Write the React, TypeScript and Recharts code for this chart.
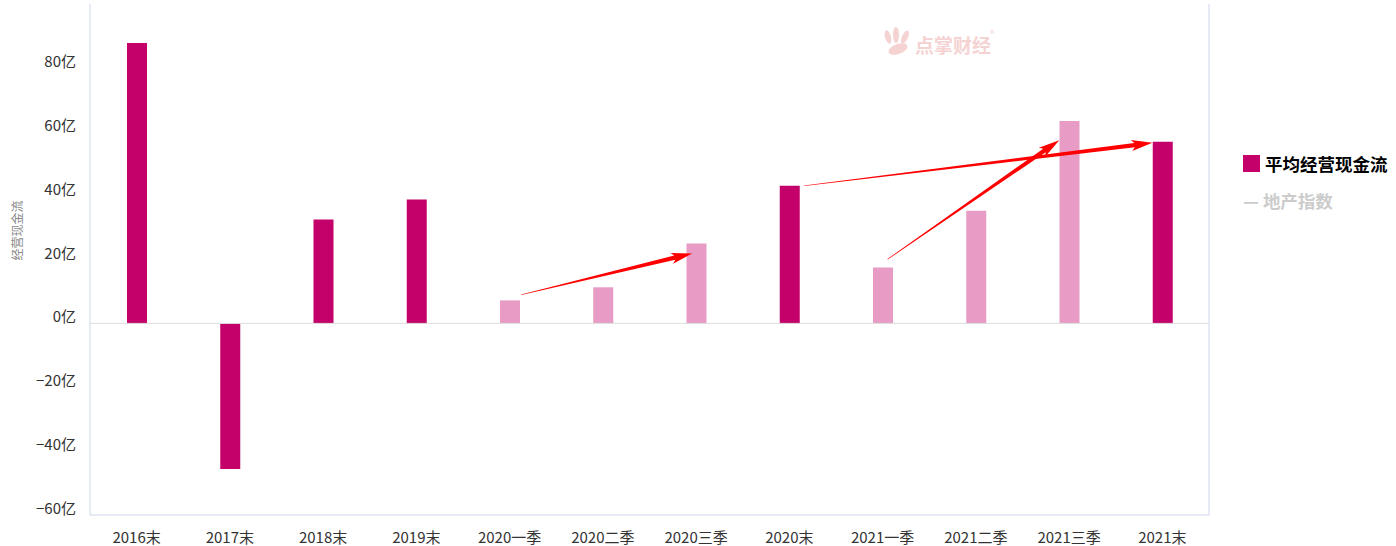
import React from "react";
import {
  BarChart,
  Bar,
  Cell,
  XAxis,
  YAxis,
  ReferenceLine,
} from "recharts";

const categories = [
  "2016末", "2017末", "2018末", "2019末",
  "2020一季", "2020二季", "2020三季", "2020末",
  "2021一季", "2021二季", "2021三季", "2021末",
];
const cashFlow = [87.8, -45.6, 32.5, 38.8, 7.2, 11.3, 25.0, 43.1, 17.5, 35.3, 63.4, 56.9];
const yTicks = [-60, -40, -20, 0, 20, 40, 60, 80];
const seriesNames = ["平均经营现金流", "地产指数"];

// arrows drawn on the chart: [from category, from value, to category, to value, trim start, trim end]
const arrows: [string, number, string, number, number, number][] = [
  ["2020一季", 8.1, "2020三季", 22.2, 12, 4],
  ["2020末", 42.5, "2021末", 56.9, 15, 10],
  ["2021一季", 19, "2021三季", 59.5, 6, 12],
];

const DARK = "#c4006a";
const LIGHT = "#e89bc5";
const AXIS = "#ccd6eb";
const FONT = "'Noto Sans CJK SC', 'Noto Sans', sans-serif";

const data = categories.map((c, i) => ({ name: c, cash: cashFlow[i] }));

const makeArrow = (trimStart: number, trimEnd: number) => (props: any) => {
  const { x1, y1, x2, y2 } = props;
  if (x1 == null || x2 == null) return null;
  const dx = x2 - x1;
  const dy = y2 - y1;
  const len = Math.sqrt(dx * dx + dy * dy);
  const ux = dx / len;
  const uy = dy / len;
  const nx = -uy;
  const ny = ux;
  const sx = x1 + ux * trimStart;
  const sy = y1 + uy * trimStart;
  const ex = x2 - ux * trimEnd;
  const ey = y2 - uy * trimEnd;
  const headLen = 18;
  const bx = ex - ux * headLen;
  const by = ey - uy * headLen;
  const pts = [
    [sx + nx * 0.3, sy + ny * 0.3],
    [bx + nx * 2.2, by + ny * 2.2],
    [bx + nx * 5.5 - ux * 3, by + ny * 5.5 - uy * 3],
    [ex, ey],
    [bx - nx * 5.5 - ux * 3, by - ny * 5.5 - uy * 3],
    [bx - nx * 2.2, by - ny * 2.2],
    [sx - nx * 0.3, sy - ny * 0.3],
  ];
  return <polygon points={pts.map((p) => p.join(",")).join(" ")} fill="#ff0000" />;
};

const YTick = (props: any) => {
  const { y, payload } = props;
  const v = String(payload.value).replace("-", "−");
  return (
    <text x={76} y={y - 1} textAnchor="end" fontSize={15} fill="#333" fontFamily={FONT}>
      {v}亿
    </text>
  );
};

const XTick = (props: any) => {
  const { x, y, payload } = props;
  return (
    <text x={x} y={y + 20} textAnchor="middle" fontSize={15} fill="#333" fontFamily={FONT}>
      {payload.value}
    </text>
  );
};

export default function App() {
  return (
    <div style={{ position: "absolute", left: 0, top: 0, width: 1396, height: 546 }}>
      <BarChart
        width={1396}
        height={546}
        data={data}
        margin={{ top: 4, right: 186, bottom: 0, left: 0 }}
      >
        <text x={915} y={53} fontSize={19} fontWeight={700} fill="#f5d3d3" fontFamily={FONT}>
          点掌财经
        </text>
        <text x={990} y={37} fontSize={9} fill="#f5d3d3" fontFamily={FONT}>®</text>
        <g fill="#f5d3d3">
          <ellipse cx={888} cy={37} rx={3} ry={7} transform="rotate(-15 888 37)" />
          <ellipse cx={896} cy={35} rx={3} ry={8} />
          <ellipse cx={905} cy={37} rx={3} ry={7} transform="rotate(25 905 37)" />
          <ellipse cx={898} cy={49} rx={10} ry={5} transform="rotate(-20 898 49)" />
        </g>
        <XAxis
          dataKey="name"
          axisLine={{ stroke: AXIS }}
          tickLine={false}
          height={31}
          interval={0}
          tick={<XTick />}
        />
        <YAxis
          width={90}
          domain={[-60, 100]}
          ticks={yTicks}
          allowDataOverflow
          axisLine={{ stroke: AXIS }}
          tickLine={false}
          tick={<YTick />}
          label={{
            content: ({ viewBox }: any) => {
              const cx = 16;
              const cy = viewBox.y + viewBox.height / 2 - 29;
              return (
                <text
                  x={cx}
                  y={cy}
                  transform={`rotate(-90 ${cx} ${cy})`}
                  textAnchor="middle"
                  dominantBaseline="central"
                  fontSize={12}
                  fill="#888"
                  fontFamily={FONT}
                >
                  经营现金流
                </text>
              );
            },
          }}
        />
        <YAxis
          yAxisId="right"
          orientation="right"
          width={1}
          domain={[0, 1]}
          tick={false}
          tickLine={false}
          axisLine={{ stroke: AXIS }}
        />
        <ReferenceLine y={0} stroke="#dddddd" strokeWidth={1} />
        <Bar dataKey="cash" name={seriesNames[0]} barSize={20} isAnimationActive={false}>
          {data.map((d) => (
            <Cell key={d.name} fill={d.name.endsWith("末") ? DARK : LIGHT} />
          ))}
        </Bar>
        {arrows.map(([c1, v1, c2, v2, ts, te]) => (
          <ReferenceLine
            key={c1 + c2}
            segment={[{ x: c1, y: v1 }, { x: c2, y: v2 }]}
            ifOverflow="visible"
            shape={makeArrow(ts, te)}
          />
        ))}
      </BarChart>
      <div
        style={{
          position: "absolute",
          left: 1243,
          top: 150,
          fontFamily: FONT,
          fontWeight: 700,
          fontSize: 17.5,
          whiteSpace: "nowrap",
        }}
      >
        <div style={{ display: "flex", alignItems: "center", color: "#000", height: 26 }}>
          <span style={{ width: 17, height: 17, background: DARK, marginRight: 5, display: "inline-block" }} />
          {seriesNames[0]}
        </div>
        <div style={{ color: "#cccccc", marginTop: 12, height: 26 }}>— {seriesNames[1]}</div>
      </div>
    </div>
  );
}
